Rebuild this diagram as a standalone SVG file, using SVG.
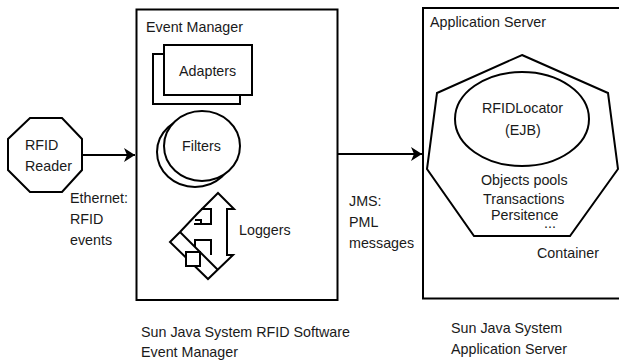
<svg xmlns="http://www.w3.org/2000/svg" width="619" height="362" viewBox="0 0 619 362">
<defs>
<marker id="arrow" markerUnits="userSpaceOnUse" markerWidth="12" markerHeight="14" refX="11" refY="7" orient="auto"><path d="M0 0L11 7L0 14L3 7Z" fill="#000"/></marker>
</defs>
<style>
.s{fill:#fff;stroke:#000;stroke-width:2}
.l{fill:none;stroke:#000;stroke-width:2}
.t{font-family:"Liberation Sans",Arial,sans-serif;font-size:14.3px;fill:#1a1a1a}
.c{stroke:#000;stroke-width:2;fill:none;marker-end:url(#arrow)}
</style>
<rect width="619" height="362" fill="#fff"/>
<g id="rfid-reader">
<polygon class="s" points="30,118 62,118 82,139 82,170 62,192 30,192 8,170 8,139"/>
<text class="t" x="25" y="150">RFID</text>
<text class="t" x="25" y="171">Reader</text>
</g>
<g id="event-manager">
<rect class="s" x="136.500" y="9.500" width="201" height="290.500"/>
<text class="t" x="146" y="32">Event Manager</text>
</g>
<g id="adapters">
<rect class="s" x="153" y="54" width="87" height="50"/>
<rect class="s" x="164" y="45" width="88" height="50"/>
<text class="t" x="179" y="76">Adapters</text>
</g>
<g id="filters">
<ellipse class="s" cx="195" cy="152" rx="38" ry="35"/>
<ellipse class="s" cx="202" cy="146" rx="38" ry="35"/>
<text class="t" x="182" y="151">Filters</text>
</g>
<g id="loggers">
<polygon class="s" points="218,193 234,209 227,209 227,255 233,255 208,279 170,242 180,232 197,214"/>
<path class="l" d="M180 232L218 270"/>
<path class="l" d="M201 209H211V224H194M195 220H201V223M195 247V240H211V255"/>
<rect class="s" x="186" y="252" width="14" height="14"/>
<text class="t" x="239" y="235">Loggers</text>
</g>
<g id="application-server">
<rect class="s" x="423" y="8" width="220" height="290.500"/>
<text class="t" x="430" y="27">Application Server</text>
<polygon class="s" points="522,55 608,93 618,169 570,236 474,236 427,169 437,93"/>
<ellipse class="s" cx="522" cy="119" rx="67" ry="47"/>
<text class="t" x="482" y="113">RFIDLocator</text>
<text class="t" x="505" y="135">(EJB)</text>
<text class="t" x="481" y="185">Objects pools</text>
<text class="t" x="483" y="204">Transactions</text>
<text class="t" x="491" y="220">Persitence</text>
<text class="t" x="544" y="228">...</text>
<text class="t" x="537" y="258">Container</text>
</g>
<g id="connectors">
<path class="c" d="M82 155L135 155"/>
<path class="c" d="M337 154L422 154"/>
</g>
<g id="labels">
<text class="t" x="70" y="203">Ethernet:</text>
<text class="t" x="70" y="224">RFID</text>
<text class="t" x="70" y="245">events</text>
<text class="t" x="349" y="206">JMS:</text>
<text class="t" x="349" y="227">PML</text>
<text class="t" x="349" y="248">messages</text>
<text class="t" x="141" y="337">Sun Java System RFID Software</text>
<text class="t" x="141" y="357">Event Manager</text>
<text class="t" x="451" y="333">Sun Java System</text>
<text class="t" x="451" y="354">Application Server</text>
</g>
</svg>
